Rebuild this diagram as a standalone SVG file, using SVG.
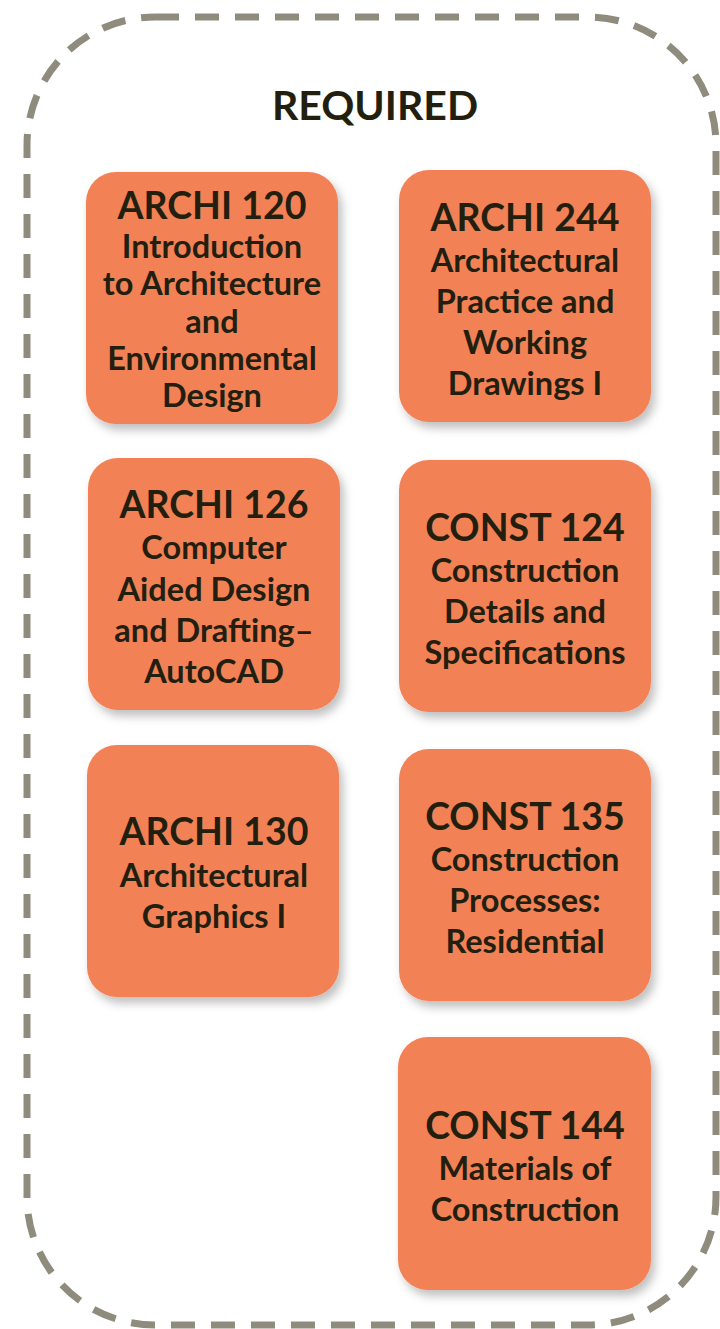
<svg xmlns="http://www.w3.org/2000/svg" width="720" height="1329" viewBox="0 0 720 1329">
<style>
.box{fill:#f38157;filter:url(#sh)}
.h{font-family:Lato,"Liberation Sans",sans-serif;font-weight:bold;font-size:37.5px;fill:#231f0e;text-anchor:middle}
.s{font-family:Lato,"Liberation Sans",sans-serif;font-weight:bold;font-size:32.5px;fill:#231f0e;text-anchor:middle}
</style>
<defs>
<filter id="sh" x="-20%" y="-20%" width="150%" height="150%">
<feDropShadow dx="4" dy="6" stdDeviation="5" flood-color="#000" flood-opacity="0.25"/>
</filter>
</defs>
<rect width="720" height="1329" fill="#fff"/>
<rect id="frame" x="27" y="17" width="689" height="1308" rx="128" ry="128" fill="none" stroke="#8f8c7e" stroke-width="7" stroke-dasharray="24 16"/>
<text id="title" x="375" y="120" font-family="Lato,'Liberation Sans',sans-serif" font-weight="bold" font-size="41" fill="#231f0e" text-anchor="middle">REQUIRED</text>
<g id="archi120">
<rect class="box" x="86" y="172" width="252" height="252" rx="30"/>
<text class="h" x="212" y="219">ARCHI 120</text>
<text class="s" x="212" y="258">Introduction</text>
<text class="s" x="212" y="295">to Architecture</text>
<text class="s" x="212" y="333">and</text>
<text class="s" x="212" y="370">Environmental</text>
<text class="s" x="212" y="407">Design</text>
</g>
<g id="archi244">
<rect class="box" x="399" y="170" width="252" height="252" rx="30"/>
<text class="h" x="525" y="231">ARCHI 244</text>
<text class="s" x="525" y="272">Architectural</text>
<text class="s" x="525" y="313">Practice and</text>
<text class="s" x="525" y="354">Working</text>
<text class="s" x="525" y="395">Drawings I</text>
</g>
<g id="archi126">
<rect class="box" x="88" y="458" width="252" height="252" rx="30"/>
<text class="h" x="214" y="518">ARCHI 126</text>
<text class="s" x="214" y="559">Computer</text>
<text class="s" x="214" y="601">Aided Design</text>
<text class="s" x="214" y="642">and Drafting–</text>
<text class="s" x="214" y="683">AutoCAD</text>
</g>
<g id="const124">
<rect class="box" x="399" y="460" width="252" height="252" rx="30"/>
<text class="h" x="525" y="541">CONST 124</text>
<text class="s" x="525" y="582">Construction</text>
<text class="s" x="525" y="623">Details and</text>
<text class="s" x="525" y="664">Specifications</text>
</g>
<g id="archi130">
<rect class="box" x="87" y="745" width="252" height="252" rx="30"/>
<text class="h" x="214" y="845">ARCHI 130</text>
<text class="s" x="214" y="887">Architectural</text>
<text class="s" x="214" y="928">Graphics I</text>
</g>
<g id="const135">
<rect class="box" x="399" y="749" width="252" height="252" rx="30"/>
<text class="h" x="525" y="830">CONST 135</text>
<text class="s" x="525" y="871">Construction</text>
<text class="s" x="525" y="912">Processes:</text>
<text class="s" x="525" y="953">Residential</text>
</g>
<g id="const144">
<rect class="box" x="398" y="1037" width="253" height="253" rx="30"/>
<text class="h" x="525" y="1139">CONST 144</text>
<text class="s" x="525" y="1180">Materials of</text>
<text class="s" x="525" y="1221">Construction</text>
</g>
<g id="connectors"/>
</svg>
